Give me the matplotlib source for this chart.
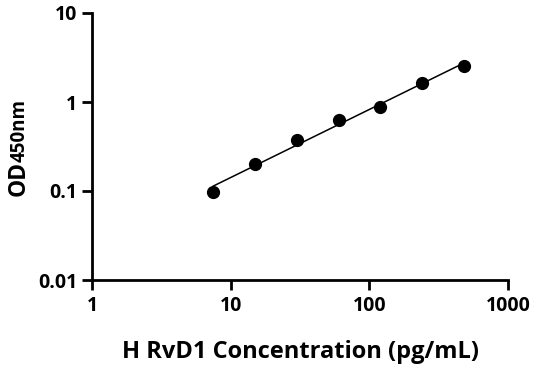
import numpy as np
import matplotlib
matplotlib.use("Agg")
import matplotlib.pyplot as plt

plt.rcParams['font.family'] = ['Open Sans', 'DejaVu Sans']
plt.rcParams['font.weight'] = 'bold'

conc = [7.5, 15, 30, 60, 120, 240, 480]
od = [0.097, 0.202, 0.372, 0.63, 0.88, 1.63, 2.55]
xticks = [1, 10, 100, 1000]
xticklabels = ['1', '10', '100', '1000']
yticks = [0.01, 0.1, 1, 10]
yticklabels = ['0.01', '0.1', '1', '10']

W, H = 536, 371
fig = plt.figure(figsize=(W / 100, H / 100), dpi=100)
ax = fig.add_axes([92 / W, (H - 280) / H, (508 - 92) / W, (280 - 13) / H])

# log-log linear fit for standard curve
lx, ly = np.log10(conc), np.log10(od)
p = np.polyfit(lx, ly, 1)
fx = np.linspace(lx[0], lx[-1], 100)
ax.plot(10 ** fx, 10 ** np.polyval(p, fx), color='black', lw=1.1, zorder=2)
ax.plot(conc, od, 'o', color='black', markersize=8.5, zorder=3)

ax.set_xscale('log')
ax.set_yscale('log')
ax.set_xlim(1, 1000)
ax.set_ylim(0.01, 10)
ax.set_xticks(xticks)
ax.set_xticklabels(xticklabels)
ax.set_yticks(yticks)
ax.set_yticklabels(yticklabels)
ax.minorticks_off()
for s in ['top', 'right']:
    ax.spines[s].set_visible(False)
for s in ['left', 'bottom']:
    ax.spines[s].set_linewidth(2)
ax.tick_params(axis='both', which='major', length=7.5, width=2, labelsize=14)
ax.tick_params(axis='x', pad=4)
ax.tick_params(axis='y', pad=3)
for lab in ax.get_xticklabels() + ax.get_yticklabels():
    lab.set_fontweight('bold')

fig.text(0.5 * (92 + 508) / W, (H - 352) / H, 'H RvD1 Concentration (pg/mL)',
         ha='center', va='center', fontsize=17, fontweight='bold')

# y label: OD with subscript 450nm
fig.text(25 / W, (H - 196) / H, 'OD', rotation=90, rotation_mode='anchor',
         ha='left', va='baseline', fontsize=16.5, fontweight='bold')
fig.text(25 / W, (H - 162) / H, '450nm', rotation=90, rotation_mode='anchor',
         ha='left', va='baseline', fontsize=13.5, fontweight='bold')

fig.savefig('out.png', dpi=100)
